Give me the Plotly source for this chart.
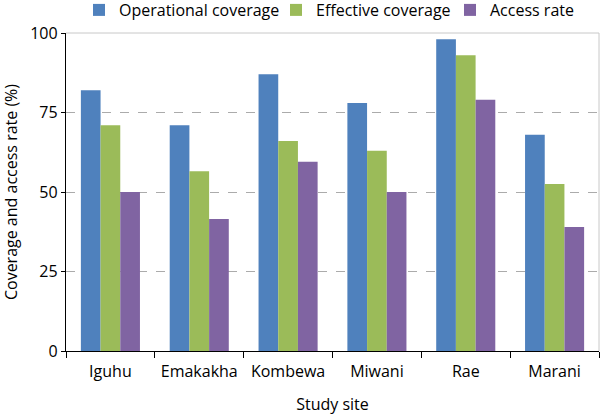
import plotly.graph_objects as go

sites = ["Iguhu", "Emakakha", "Kombewa", "Miwani", "Rae", "Marani"]
operational = [82, 71, 87, 78, 98, 68]
effective = [71, 56.5, 66, 63, 93, 52.5]
access = [50, 41.5, 59.5, 50, 79, 39]

series_names = ["Operational coverage", "Effective coverage", "Access rate"]
colors = ["#4F81BD", "#9BBB59", "#8064A2"]
legend_ids = ["legend", "legend2", "legend3"]
legend_x_px = [79, 276, 450]

font_family = "Open Sans, Noto Sans, sans-serif"

fig = go.Figure()
for name, vals, col, lg in zip(series_names, [operational, effective, access], colors, legend_ids):
    fig.add_trace(go.Bar(x=sites, y=vals, name=name, legend=lg, showlegend=True,
                         marker=dict(color=col, line=dict(width=0))))

legend_common = dict(orientation="h", xref="container", xanchor="left",
                     yref="container", y=1 - 10 / 415, yanchor="middle",
                     font=dict(size=16), bgcolor="rgba(0,0,0,0)")

layout_legends = {lg: dict(x=xp / 600, **legend_common) for lg, xp in zip(legend_ids, legend_x_px)}

fig.update_layout(
    width=600, height=415,
    showlegend=True,
    margin=dict(l=66, r=1, t=33, b=64, autoexpand=False),
    paper_bgcolor="white", plot_bgcolor="white",
    barmode="group", bargap=0.335, bargroupgap=0,
    font=dict(family=font_family, size=16, color="black"),
    xaxis=dict(
        automargin=False,
        showline=True, linecolor="black", linewidth=1.3,
        ticks="outside", tickson="boundaries", ticklen=6, tickcolor="black",
        ticklabelstandoff=6,
        showgrid=False,
        title=dict(text="Study site", font=dict(size=16), standoff=20),
        tickfont=dict(size=16),
    ),
    yaxis=dict(
        automargin=False,
        range=[0, 100], tickvals=[0, 25, 50, 75, 100],
        showline=True, linecolor="black", linewidth=1.3,
        ticks="outside", ticklen=4, tickcolor="black",
        showgrid=True, gridcolor="#ABABAB", griddash="dash", gridwidth=1,
        zeroline=False,
        title=dict(text="Coverage and access rate (%)", font=dict(size=16), standoff=8),
        tickfont=dict(size=16),
    ),
    shapes=[
        dict(type="line", xref="paper", yref="paper", x0=0, x1=1, y0=1, y1=1,
             line=dict(color="#C8C8C8", width=1)),
        dict(type="line", xref="paper", yref="paper", x0=1, x1=1, y0=0, y1=1,
             line=dict(color="#C8C8C8", width=1)),
    ],
    **layout_legends,
)

fig.write_html("out.html", config={"displayModeBar": False},
               post_script="document.body.style.margin='0';")
